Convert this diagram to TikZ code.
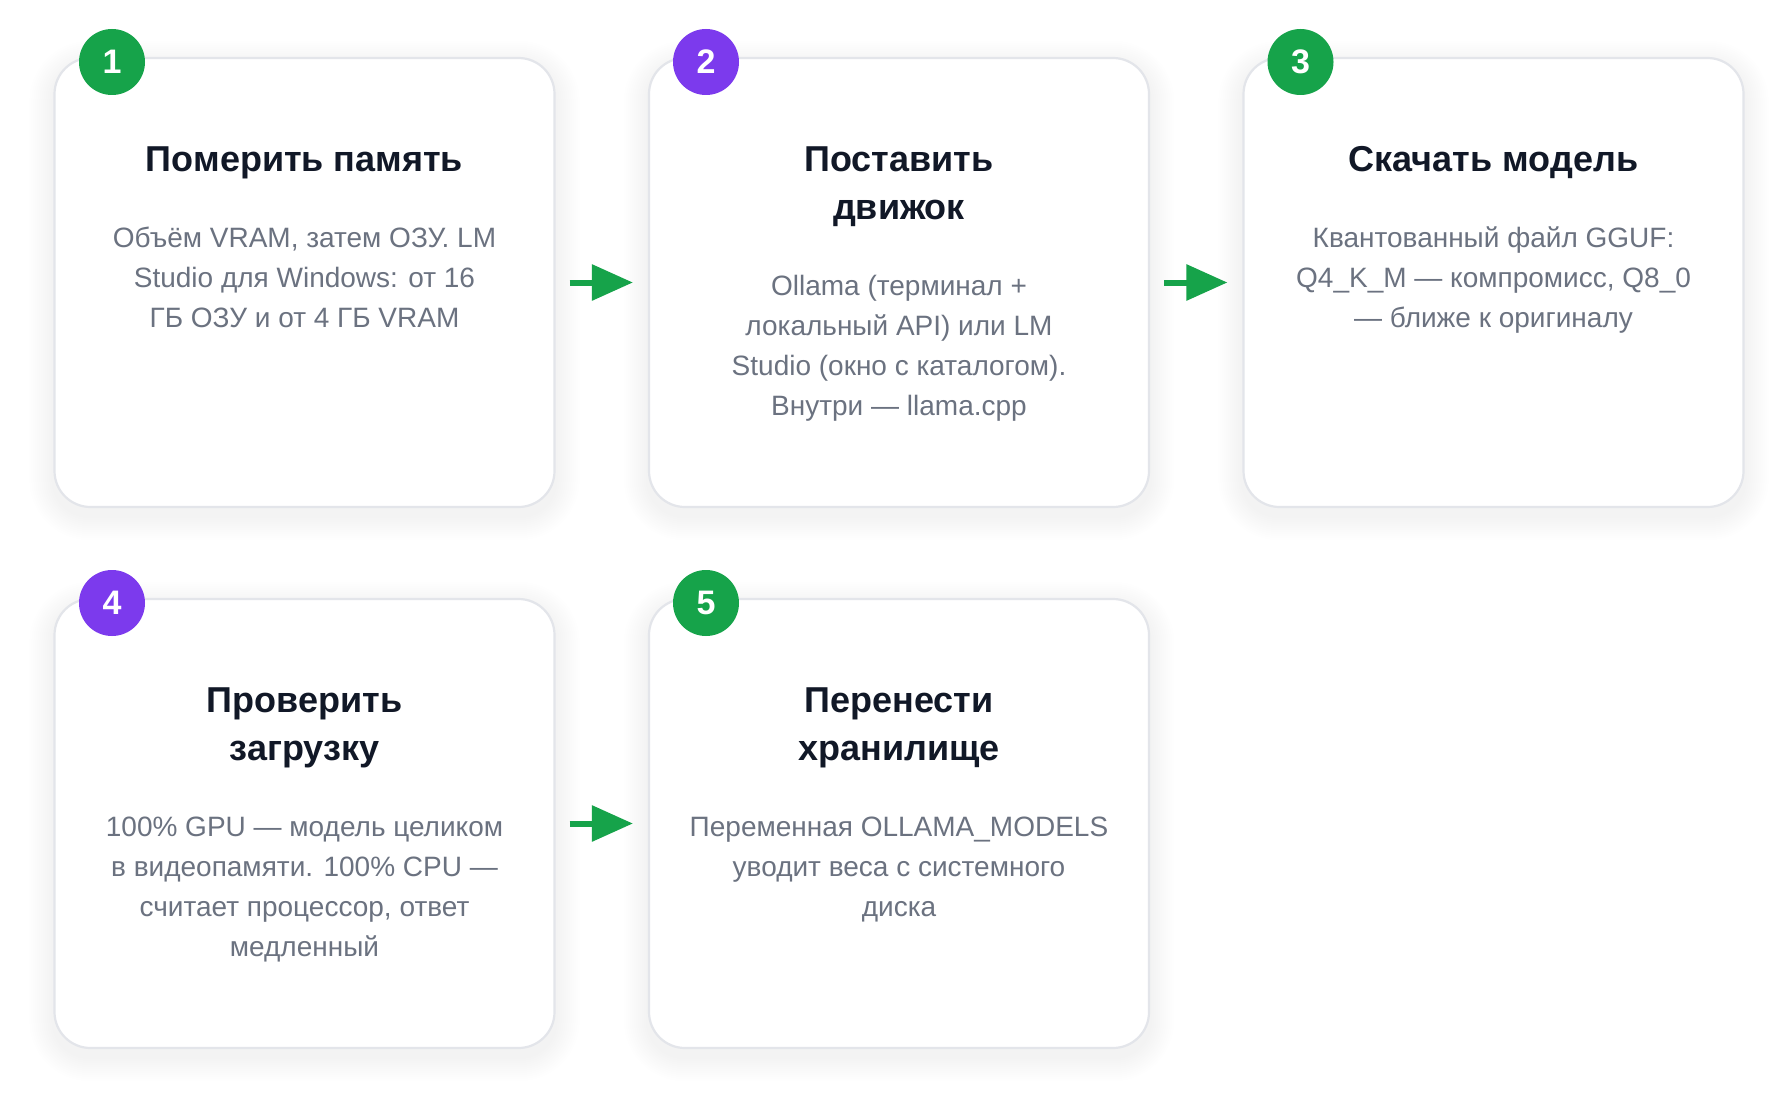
\documentclass[tikz,border=0pt]{standalone}
\usepackage{fontspec}
\setmainfont{Liberation Sans}
\usetikzlibrary{arrows.meta,backgrounds}
\definecolor{cardborder}{HTML}{E3E5EA}
\definecolor{titlecol}{HTML}{111827}
\definecolor{bodycol}{HTML}{6B7280}
\definecolor{stepgreen}{HTML}{16A34A}
\definecolor{steppurple}{HTML}{7C3AED}
\definecolor{shadecol}{HTML}{1E2A44}
\tikzset{
  card/.style={draw=cardborder, line width=2.2pt, fill=white, rounded corners=36pt,
    minimum width=500pt, minimum height=449pt, inner sep=0pt},
  badge/.style={circle, minimum size=66pt, inner sep=0pt, text=white,
    font=\fontsize{34}{40}\selectfont\bfseries},
  ttl/.style={anchor=north, inner sep=0pt, align=center, text=titlecol,
    font=\fontsize{36}{48}\selectfont\bfseries},
  bdy/.style={anchor=north, inner sep=0pt, align=center, text=bodycol,
    font=\fontsize{28}{40}\selectfont},
  flow/.style={draw=stepgreen, line width=6pt, -{Triangle[length=41pt,width=35pt]},
    shorten <=14pt, shorten >=15pt},
  softshade/.style={fill=shadecol, fill opacity=0.0035, draw=none}
}
\newcommand{\ts}{\rule{0pt}{30pt}}
\newcommand{\bs}{\rule{0pt}{24pt}}
\newcommand{\cardshade}[1]{%
  \foreach \k in {1,...,12}{%
    \fill[softshade, rounded corners={36pt+2*\k pt}]
      ([xshift={-2*\k pt}, yshift={-2*\k pt-8pt}]#1.south west) rectangle
      ([xshift={2*\k pt}, yshift={2*\k pt-8pt}]#1.north east);
  }}
\begin{document}
\begin{tikzpicture}[x=1pt,y=-1pt]
\useasboundingbox (0,0) rectangle (1790,1105);
% cards
\node[card] (c1) at (304.5,282.5) {};
\node[card] (c2) at (899,282.5) {};
\node[card] (c3) at (1493.5,282.5) {};
\node[card] (c4) at (304.5,823.5) {};
\node[card] (c5) at (899,823.5) {};
\begin{scope}[on background layer]
  \fill[white] (0,0) rectangle (1790,1105);
  \cardshade{c1}\cardshade{c2}\cardshade{c3}\cardshade{c4}\cardshade{c5}
\end{scope}
% badges
\node[badge, fill=stepgreen] (b1) at (112,62) {1};
\node[badge, fill=steppurple] (b2) at (706,62) {2};
\node[badge, fill=stepgreen] (b3) at (1300.5,62) {3};
\node[badge, fill=steppurple] (b4) at (112,603) {4};
\node[badge, fill=stepgreen] (b5) at (706,603) {5};
% titles
\node[ttl] (t1) at (304.5,141) {\ts Померить память};
\node[ttl] (t2) at (899,141) {\ts Поставить\\движок};
\node[ttl] (t3) at (1493.5,141) {\ts Скачать модель};
\node[ttl] (t4) at (304.5,682) {\ts Проверить\\загрузку};
\node[ttl] (t5) at (899,682) {\ts Перенести\\хранилище};
% bodies
\node[bdy] (d1) at (304.5,223) {\bs Объём VRAM, затем ОЗУ. LM\\Studio для Windows: от 16\\ГБ ОЗУ и от 4 ГБ VRAM};
\node[bdy] (d2) at (899,271) {\bs Ollama (терминал +\\локальный API) или LM\\Studio (окно с каталогом).\\Внутри — llama.cpp};
\node[bdy] (d3) at (1493.5,223) {\bs Квантованный файл GGUF:\\Q4\_K\_M — компромисс, Q8\_0\\— ближе к оригиналу};
\node[bdy] (d4) at (304.5,812) {\bs 100\% GPU — модель целиком\\в видеопамяти. 100\% CPU —\\считает процессор, ответ\\медленный};
\node[bdy] (d5) at (899,812) {\bs Переменная OLLAMA\_MODELS\\уводит веса с системного\\диска};
% arrows
\draw[flow] (c1) -- (c2);
\draw[flow] (c2) -- (c3);
\draw[flow] (c4) -- (c5);
\end{tikzpicture}
\end{document}
